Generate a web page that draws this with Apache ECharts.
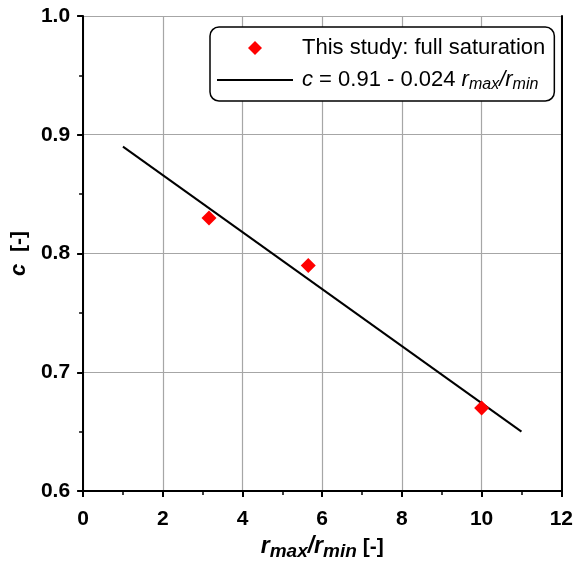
<!DOCTYPE html>
<html>
<head>
<meta charset="utf-8">
<script src="https://cdn.jsdelivr.net/npm/echarts@6/dist/echarts.min.js"></script>
<style>
  html, body { margin: 0; padding: 0; background: #fff; }
  #chart { width: 576px; height: 566px; }
</style>
</head>
<body>
<div id="chart"></div>
<script>
// Measured points: coefficient c against pore-size ratio r_max/r_min
const ratioValues = [3.16, 5.65, 10.0];
const cValues = [0.83, 0.79, 0.67];

// Linear fit c = 0.91 - 0.024 r_max/r_min, drawn between its end points
const fitX = [1, 11];
const fitY = [0.89, 0.65];

const xTicks = [0, 2, 4, 6, 8, 10, 12];
const yTicks = [0.6, 0.7, 0.8, 0.9, 1.0];

const FONT = 'Liberation Sans, Arial, sans-serif';

const chart = echarts.init(document.getElementById('chart'), null, { renderer: 'canvas' });

const pointData = ratioValues.map((x, i) => [x, cValues[i]]);
const fitData = fitX.map((x, i) => [x, fitY[i]]);

chart.setOption({
  animation: false,
  backgroundColor: '#ffffff',
  grid: { left: 83, right: 14, top: 16, bottom: 72, containLabel: false },
  legend: {
    left: 210,
    top: 27,
    orient: 'vertical',
    backgroundColor: '#ffffff',
    borderColor: '#000000',
    borderWidth: 1.5,
    borderRadius: 9,
    padding: [8, 9, 8, 7],
    itemWidth: 76,
    itemHeight: 14,
    itemGap: 6,
    symbolKeepAspect: true,
    textStyle: {
      fontFamily: FONT,
      fontSize: 22,
      color: '#000',
      lineHeight: 26,
      padding: [0, 0, 0, 4],
      rich: {
        n: { fontFamily: FONT, fontSize: 22, color: '#000' },
        i: { fontFamily: FONT, fontSize: 22, fontStyle: 'italic', color: '#000' },
        s: { fontFamily: FONT, fontSize: 16, fontStyle: 'italic', color: '#000', padding: [10, 0, 0, 0] }
      }
    },
    formatter: function (name) {
      if (name === 'fit') {
        return '{i|c}{n| = 0.91 - 0.024 }{i|r}{s|max}{i|/r}{s|min}';
      }
      return '{n|' + name + '}';
    },
    data: [
      {
        name: 'This study: full saturation',
        icon: 'path://M0,-1L1,0L0,1L-1,0Z',
        itemStyle: { color: '#ff0000', opacity: 1 }
      },
      {
        name: 'fit',
        icon: 'path://M0,0L76,0L76,2L0,2Z',
        itemStyle: { color: '#000000', opacity: 1 }
      }
    ]
  },
  xAxis: {
    type: 'value',
    min: 0,
    max: 12,
    interval: 2,
    name: '{bi|r}{bs|max}{bi|/r}{bs|min}{b| [-]}',
    nameLocation: 'middle',
    nameGap: 42,
    nameTextStyle: {
      rich: {
        b: { fontFamily: FONT, fontSize: 21, fontWeight: 'bold', color: '#000' },
        bi: { fontFamily: FONT, fontSize: 23, fontWeight: 'bold', fontStyle: 'italic', color: '#000' },
        bs: { fontFamily: FONT, fontSize: 19, fontWeight: 'bold', fontStyle: 'italic', color: '#000', padding: [9, 0, 0, 0] }
      }
    },
    axisLine: { show: true, onZero: false, lineStyle: { color: '#000', width: 2 } },
    axisTick: { show: true, inside: false, length: 6, lineStyle: { color: '#000', width: 2 } },
    minorTick: { show: true, splitNumber: 2, length: 4, lineStyle: { color: '#000', width: 1.5 } },
    axisLabel: {
      margin: 18,
      fontFamily: FONT,
      fontSize: 21,
      fontWeight: 'bold',
      color: '#000',
      formatter: v => (xTicks.includes(v) ? String(v) : '')
    },
    splitLine: { show: true, lineStyle: { color: '#a6a6a6', width: 1.2 } }
  },
  yAxis: [
    {
      type: 'value',
      min: 0.6,
      max: 1.0,
      interval: 0.1,
      name: '{bi|c}{b|  [-]}',
      nameLocation: 'middle',
      nameGap: 44,
      nameRotate: 90,
      nameTextStyle: {
        rich: {
          b: { fontFamily: FONT, fontSize: 21, fontWeight: 'bold', color: '#000' },
          bi: { fontFamily: FONT, fontSize: 22, fontWeight: 'bold', fontStyle: 'italic', color: '#000' }
        }
      },
      axisLine: { show: true, onZero: false, lineStyle: { color: '#000', width: 2 } },
      axisTick: { show: true, inside: false, length: 6, lineStyle: { color: '#000', width: 2 } },
      minorTick: { show: true, splitNumber: 2, length: 4, lineStyle: { color: '#000', width: 1.5 } },
      axisLabel: {
        margin: 13,
        fontFamily: FONT,
        fontSize: 21,
        fontWeight: 'bold',
        color: '#000',
        formatter: v => {
          const t = yTicks.find(y => Math.abs(y - v) < 1e-6);
          return t === undefined ? '' : t.toFixed(1);
        }
      },
      splitLine: { show: true, showMinLine: false, showMaxLine: true, lineStyle: { color: '#a6a6a6', width: 1.2 } }
    },
    {
      type: 'value',
      position: 'right',
      min: 0.6,
      max: 1.0,
      interval: 0.1,
      axisLine: { show: true, onZero: false, lineStyle: { color: '#000', width: 2 } },
      axisTick: { show: false },
      axisLabel: { show: false },
      splitLine: { show: false }
    }
  ],
  series: [
    {
      name: 'fit',
      type: 'line',
      data: fitData,
      symbol: 'none',
      lineStyle: { color: '#000', width: 2 },
      itemStyle: { color: '#000' },
      z: 2
    },
    {
      name: 'This study: full saturation',
      type: 'scatter',
      data: pointData,
      symbol: 'diamond',
      symbolSize: 15,
      itemStyle: { color: '#ff0000', opacity: 1 },
      z: 3
    }
  ]
});
</script>
</body>
</html>
